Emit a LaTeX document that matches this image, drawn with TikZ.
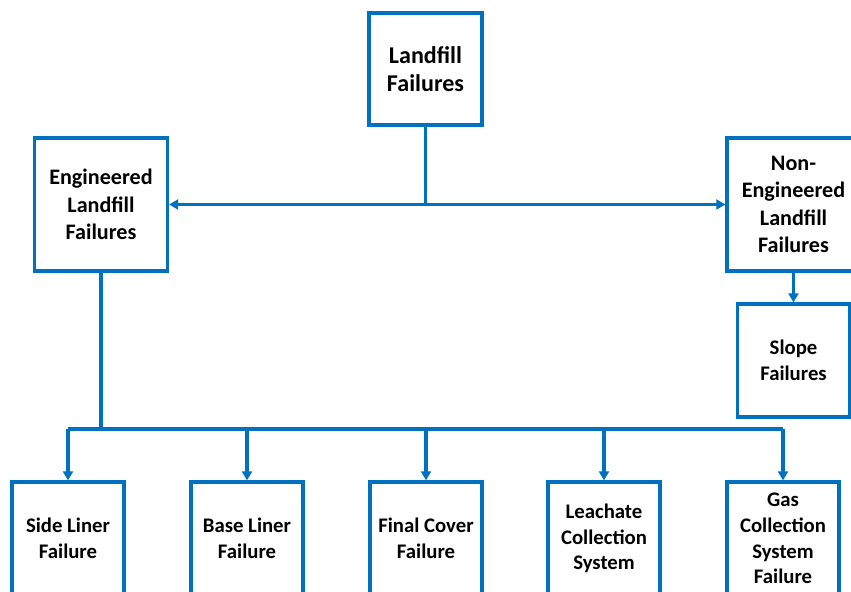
\documentclass[tikz,border=0pt]{standalone}
\usepackage{fontspec}
\setmainfont{Carlito}
\usetikzlibrary{arrows.meta}
\definecolor{linkblue}{RGB}{0,112,192}
\tikzset{box/.style={draw=linkblue, line width=1.9pt, align=center, inner sep=0pt, font=\bfseries},
        topbox/.style={box, minimum width=2.26cm, minimum height=2.24cm, font=\fontsize{13.7}{15.9}\selectfont\bfseries},
        midbox/.style={box, minimum width=2.66cm, minimum height=2.66cm, font=\fontsize{12.6}{15.6}\selectfont\bfseries},
        lowbox/.style={box, minimum width=2.24cm, minimum height=2.26cm, font=\fontsize{11.8}{14.6}\selectfont\bfseries},
        link/.style={draw=linkblue, line width=1.8pt},
        arr/.style={link, -{Triangle[length=0.18cm, width=0.2cm]}}}

\begin{document}
\begin{tikzpicture}

					\useasboundingbox (0,0) rectangle (17.02,11.82);
					\clip (0,0) rectangle (17.02,11.82);

					% top and middle level
					\node[topbox] (landfill) at (8.51,10.44) {Landfill\\Failures};
					\node[midbox] (eng) at (2.02,7.73) {Engineered\\Landfill\\Failures};
					\node[midbox] (noneng) at (15.87,7.73) {Non-\\Engineered\\Landfill\\Failures};
					\node[lowbox, minimum height=2.26cm] (slope) at (15.87,4.61) {Slope\\Failures};

					\draw[link] (landfill.south) -- (landfill.south |- eng.east) coordinate (split);
					\draw[arr] (split) -- (eng.east);
					\draw[arr] (split) -- (noneng.west);
					\draw[arr] (noneng.south) -- (slope.north);

					% bottom level
					\node[lowbox] (side) at (1.36,1.05) {Side Liner\\Failure};
					\node[lowbox] (base) at (4.94,1.05) {Base Liner\\Failure};
					\node[lowbox] (cover) at (8.52,1.05) {Final Cover\\Failure};
					\node[lowbox] (leachate) at (12.08,1.05) {Leachate\\Collection\\System};
					\node[lowbox] (gas) at (15.66,1.05) {Gas\\Collection\\System\\Failure};

					\draw[link] (eng.south) -- (eng.south |- 0,3.24) coordinate (bus);
					\draw[link] (side.north |- bus) -- (gas.north |- bus);
					\foreach \n in {side,base,cover,leachate,gas}
						\draw[arr] (\n.north |- bus) -- (\n.north);

				\end{tikzpicture}
\end{document}
